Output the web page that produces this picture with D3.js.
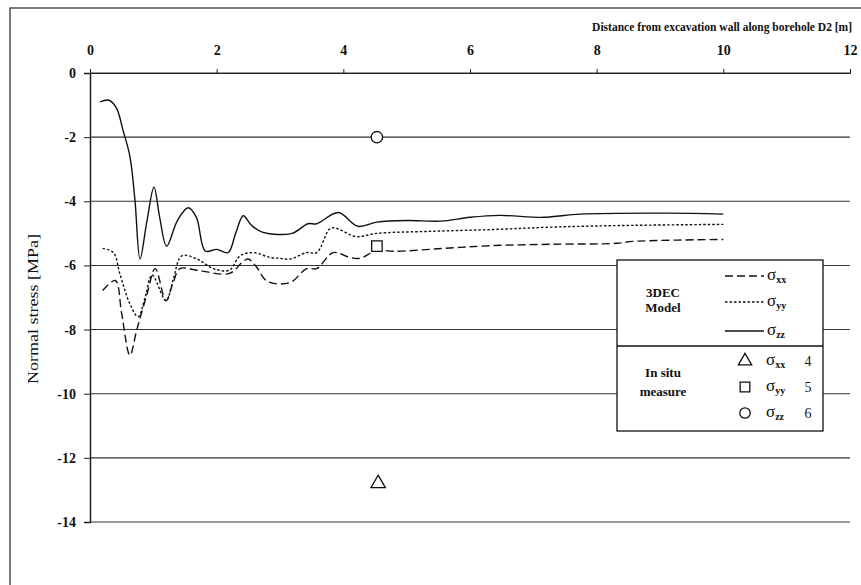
<!DOCTYPE html>
<html>
<head>
<meta charset="utf-8">
<script src="https://cdn.jsdelivr.net/npm/d3@7"></script>
<style>
body { margin: 0; background: #fff; }
</style>
</head>
<body>
<div id="grafica"></div>
<script>
// datos
var sxxX = [0.2, 0.4, 0.5, 0.63, 0.74, 0.9, 1.03, 1.2, 1.31, 1.42, 1.69, 2.2, 2.42, 2.5, 2.63, 2.8, 3.16, 3.42, 3.58, 3.84, 4.1, 4.26, 4.53, 4.79, 5.58, 6.37, 7.3, 8.32, 8.58, 10];
var sxxY = [-6.78, -6.47, -7.5, -8.8, -8.0, -6.9, -6.1, -7.1, -6.55, -6.1, -6.15, -6.25, -5.87, -5.8, -6.05, -6.5, -6.53, -6.1, -6.1, -5.6, -5.75, -5.78, -5.53, -5.56, -5.47, -5.38, -5.34, -5.31, -5.25, -5.19];

var syyX = [0.2, 0.37, 0.47, 0.63, 0.76, 0.87, 0.98, 1.2, 1.31, 1.45, 1.69, 1.95, 2.2, 2.37, 2.58, 2.84, 3.0, 3.16, 3.42, 3.58, 3.79, 3.9, 4.2, 4.53, 5.32, 6.37, 7.37, 8.58, 10];
var syyY = [-5.47, -5.6, -6.25, -7.2, -7.6, -7.0, -6.3, -7.1, -6.47, -5.7, -5.8, -6.1, -6.15, -5.7, -5.6, -5.75, -5.78, -5.8, -5.6, -5.6, -4.85, -4.85, -5.1, -5.0, -4.94, -4.88, -4.8, -4.75, -4.72];

var szzX = [0.16, 0.3, 0.42, 0.52, 0.63, 0.71, 0.79, 0.9, 1.01, 1.1, 1.21, 1.38, 1.55, 1.68, 1.82, 2.0, 2.18, 2.3, 2.42, 2.55, 2.73, 3.19, 3.44, 3.58, 3.92, 4.23, 4.53, 5.0, 5.53, 6.0, 6.47, 7.16, 7.74, 9.1, 10];
var szzY = [-0.9, -0.85, -1.1, -1.78, -2.6, -3.97, -5.8, -4.6, -3.56, -4.5, -5.4, -4.6, -4.2, -4.5, -5.55, -5.5, -5.6, -5.0, -4.45, -4.75, -4.97, -5.0, -4.7, -4.7, -4.35, -4.78, -4.65, -4.6, -4.62, -4.5, -4.44, -4.5, -4.4, -4.37, -4.4];

// medidas in situ
var insituNames = ["xx", "yy", "zz"];
var insituX = [4.55, 4.53, 4.53];
var insituY = [-12.8, -5.4, -2.0];
var insituNum = ["4", "5", "6"];

var xTicks = [0, 2, 4, 6, 8, 10, 12];
var yTicks = [0, -2, -4, -6, -8, -10, -12, -14];

var W = 861, H = 585;
var svg = d3.select("#grafica").append("svg")
  .attr("width", W).attr("height", H);

// marco exterior
svg.append("rect")
  .attr("x", 10).attr("y", 8).attr("width", 880).attr("height", 600)
  .attr("fill", "none").attr("stroke", "#333").attr("stroke-width", 1.3);

var x = d3.scaleLinear().domain([0, 12]).range([90, 850]);
var y = d3.scaleLinear().domain([0, -14]).range([73, 522]);

// lineas de grilla
svg.append("g").selectAll("line")
  .data(yTicks).enter().append("line")
  .attr("x1", x(0)).attr("x2", x(12))
  .attr("y1", function(d) { return y(d); })
  .attr("y2", function(d) { return y(d); })
  .attr("stroke", "#333").attr("stroke-width", 1.1);

// eje X arriba
svg.append("g")
  .attr("transform", "translate(0," + y(0) + ")")
  .call(d3.axisTop(x).tickValues(xTicks).tickSize(4).tickPadding(14).tickFormat(d3.format("d")))
  .call(function(g) { g.select(".domain").attr("stroke", "#222"); })
  .selectAll("text")
  .attr("fill", "#111")
  .style("font-family", "Liberation Sans Narrow").style("font-weight", "bold").style("font-size", "14px");

// eje Y
svg.append("g")
  .attr("transform", "translate(" + x(0) + ",0)")
  .call(d3.axisLeft(y).tickValues(yTicks).tickSize(6).tickPadding(8).tickFormat(function(d) { return d === 0 ? "0" : "-" + Math.abs(d); }))
  .call(function(g) { g.select(".domain").attr("stroke", "#222").attr("stroke-width", 1.5); })
  .selectAll("text")
  .attr("fill", "#111")
  .style("font-family", "Liberation Sans Narrow").style("font-weight", "bold").style("font-size", "14px");

svg.selectAll(".tick line").attr("stroke", "#222");

// titulos
svg.append("text")
  .attr("x", 852).attr("y", 31)
  .attr("text-anchor", "end").attr("fill", "#111")
  .style("font-family", "Liberation Serif").style("font-weight", "bold").style("font-size", "11.5px")
  .text("Distance from excavation wall along borehole D2 [m]");

svg.append("text")
  .attr("transform", "translate(38,309) rotate(-90)")
  .attr("text-anchor", "middle").attr("fill", "#111")
  .attr("textLength", 150).attr("lengthAdjust", "spacingAndGlyphs")
  .style("font-family", "Liberation Serif").style("font-size", "14px")
  .text("Normal stress [MPa]");

// curvas del modelo
var line = d3.line()
  .x(function(d) { return x(d[0]); })
  .y(function(d) { return y(d[1]); })
  .curve(d3.curveCatmullRom);

var series = [
  { xs: sxxX, ys: sxxY, dash: "8,4" },
  { xs: syyX, ys: syyY, dash: "2.5,2" },
  { xs: szzX, ys: szzY, dash: null }
];

series.forEach(function(s) {
  svg.append("path")
    .datum(d3.zip(s.xs, s.ys))
    .attr("d", line)
    .attr("fill", "none")
    .attr("stroke", "#111")
    .attr("stroke-width", 1.4)
    .attr("stroke-dasharray", s.dash);
});

// simbolos in situ
var symbols = [d3.symbolTriangle, d3.symbolSquare, d3.symbolCircle];
var sizes = [90, 110, 100];
insituNames.forEach(function(n, i) {
  svg.append("path")
    .attr("d", d3.symbol().type(symbols[i]).size(sizes[i]))
    .attr("transform", "translate(" + x(insituX[i]) + "," + y(insituY[i]) + ")")
    .attr("fill", "#fff").attr("stroke", "#111").attr("stroke-width", 1.3);
});

// leyenda
var leg = svg.append("g");
leg.append("rect")
  .attr("x", 617).attr("y", 260).attr("width", 206).attr("height", 171)
  .attr("fill", "#fff").attr("stroke", "#111").attr("stroke-width", 1.3);
leg.append("line")
  .attr("x1", 617).attr("x2", 823).attr("y1", 346).attr("y2", 346)
  .attr("stroke", "#111").attr("stroke-width", 1.3);

var serif = "Liberation Serif";
[["3DEC", 297], ["Model", 312], ["In situ", 377], ["measure", 396]].forEach(function(t) {
  leg.append("text")
    .attr("x", 663).attr("y", t[1]).attr("text-anchor", "middle").attr("fill", "#111")
    .style("font-family", serif).style("font-size", "13px").style("font-weight", "bold")
    .text(t[0]);
});

var legRowsY = [276, 302, 331];
series.forEach(function(s, i) {
  leg.append("line")
    .attr("x1", 725).attr("x2", 764)
    .attr("y1", legRowsY[i]).attr("y2", legRowsY[i])
    .attr("stroke", "#111").attr("stroke-width", 1.4)
    .attr("stroke-dasharray", s.dash);
  var t = leg.append("text")
    .attr("x", 767).attr("y", legRowsY[i] + 4).attr("fill", "#111")
    .style("font-family", serif).style("font-size", "17px");
  t.append("tspan").text("σ");
  t.append("tspan").attr("dy", 3).style("font-size", "10px").style("font-weight", "bold").text(insituNames[i]);
});

var legSymY = [361, 387, 413];
insituNames.forEach(function(n, i) {
  leg.append("path")
    .attr("d", d3.symbol().type(symbols[i]).size(sizes[i] * 0.85))
    .attr("transform", "translate(745," + legSymY[i] + ")")
    .attr("fill", "#fff").attr("stroke", "#111").attr("stroke-width", 1.3);
  var t = leg.append("text")
    .attr("x", 766).attr("y", legSymY[i] + 4).attr("fill", "#111")
    .style("font-family", serif).style("font-size", "17px");
  t.append("tspan").text("σ");
  t.append("tspan").attr("dy", 3).style("font-size", "10px").style("font-weight", "bold").text(n);
  leg.append("text")
    .attr("x", 808).attr("y", legSymY[i] + 5).attr("text-anchor", "middle").attr("fill", "#111")
    .style("font-family", serif).style("font-size", "14px")
    .text(insituNum[i]);
});
</script>
</body>
</html>
